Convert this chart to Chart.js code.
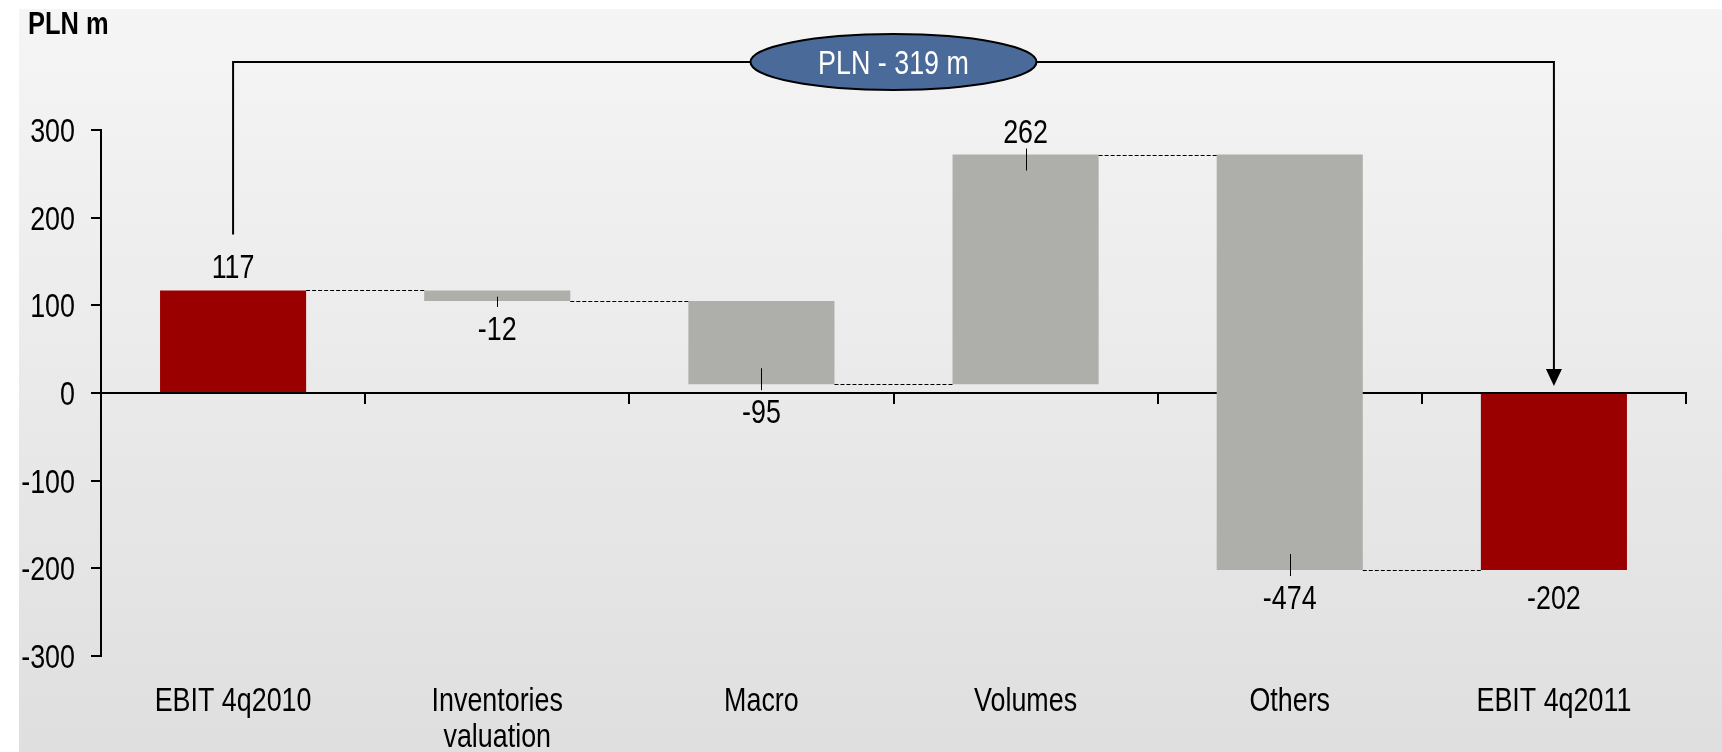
<!DOCTYPE html>
<html>
<head>
<meta charset="utf-8">
<title>EBIT bridge 4q2010 - 4q2011</title>
<script src="https://cdn.jsdelivr.net/npm/chart.js@4/dist/chart.umd.min.js"></script>
<style>
    html, body { margin: 0; padding: 0; background: #fff; overflow: hidden; }
    #bridgeChart { display: block; }
</style>
</head>
<body>
<canvas id="bridgeChart" width="1722" height="752"></canvas>
<script>
// EBIT bridge, PLN m
const categories = ['EBIT 4q2010', ['Inventories', 'valuation'], 'Macro', 'Volumes', 'Others', 'EBIT 4q2011'];
const values = [117, -12, -95, 262, -474, -202];
const isTotal = [true, false, false, false, false, true];
const yLimits = [-300, 300];
const yStep = 100;

const totalColor = '#9b0000';
const stepColor = '#aeafaa';
const fontFamily = "'Liberation Sans', Arial, sans-serif";
const textSize = 34;
const squeeze = 0.79; // narrow look for all labels

// floating ranges: totals start at zero, changes start at the running total
const ranges = [];
const levels = [];
let running = 0;
values.forEach(function (v, i) {
    if (isTotal[i]) {
        ranges.push([0, v]);
        running = v;
    } else {
        ranges.push([running, running + v]);
        running += v;
    }
    levels.push(running);
});

const totalChange = values[values.length - 1] - values[0];
const changeText = 'PLN ' + (totalChange < 0 ? '- ' : '+ ') + Math.abs(totalChange) + ' m';

function narrowText(ctx, text, x, y, align, sx) {
    ctx.save();
    ctx.translate(x, y);
    ctx.scale(sx || squeeze, 1);
    ctx.textAlign = align;
    ctx.textBaseline = 'alphabetic';
    ctx.fillText(text, 0, 0);
    ctx.restore();
}

const bridgeDecor = {
    id: 'bridgeDecor',
    beforeDraw(chart) {
        const ctx = chart.ctx;
        ctx.save();
        ctx.fillStyle = '#ffffff';
        ctx.fillRect(0, 0, chart.width, chart.height);
        const grad = ctx.createLinearGradient(0, 9, 0, chart.height);
        grad.addColorStop(0, '#f5f5f5');
        grad.addColorStop(1, '#dfdfdf');
        ctx.fillStyle = grad;
        ctx.fillRect(19, 9, chart.width - 19, chart.height - 9);

        ctx.fillStyle = '#000';
        ctx.font = 'bold 31px ' + fontFamily;
        narrowText(ctx, 'PLN m', 28, 34, 'left', 0.82);
        ctx.restore();
    },
    afterDatasetsDraw(chart) {
        const ctx = chart.ctx;
        const x = chart.scales.x;
        const y = chart.scales.y;
        const area = chart.chartArea;
        const bars = chart.getDatasetMeta(0).data;

        ctx.save();
        ctx.fillStyle = '#000';
        ctx.font = textSize + 'px ' + fontFamily;

        // y tick labels
        y.ticks.forEach(function (t) {
            const py = y.getPixelForValue(t.value);
            narrowText(ctx, String(t.label), area.left - 26, py + 12, 'right');
        });

        // category labels under the plot
        categories.forEach(function (c, i) {
            const px = x.getPixelForValue(i);
            const lines = Array.isArray(c) ? c : [c];
            lines.forEach(function (line, k) {
                narrowText(ctx, line, px, area.bottom + 55 + k * 36, 'center');
            });
        });

        // dashed links between neighbouring bars
        ctx.strokeStyle = '#000';
        ctx.lineWidth = 1;
        ctx.setLineDash([4, 2]);
        for (let i = 0; i < bars.length - 1; i++) {
            const py = Math.round(y.getPixelForValue(levels[i])) + 0.5;
            ctx.beginPath();
            ctx.moveTo(bars[i].x + bars[i].width / 2, py);
            ctx.lineTo(bars[i + 1].x - bars[i + 1].width / 2, py);
            ctx.stroke();
        }
        ctx.setLineDash([]);

        // value labels with small leader ticks on the change bars
        bars.forEach(function (bar, i) {
            const top = y.getPixelForValue(Math.max(ranges[i][0], ranges[i][1]));
            const bottom = y.getPixelForValue(Math.min(ranges[i][0], ranges[i][1]));
            const up = values[i] > 0;
            const label = String(values[i]);
            if (up) {
                narrowText(ctx, label, bar.x, top - 12, 'center');
            } else {
                narrowText(ctx, label, bar.x, bottom + 39, 'center');
            }
            if (!isTotal[i]) {
                const inside = Math.min(16, (bottom - top) / 2 - 1);
                const lx = Math.round(bar.x) + 0.5;
                ctx.beginPath();
                if (up) {
                    ctx.moveTo(lx, top - 6);
                    ctx.lineTo(lx, top + inside);
                } else {
                    ctx.moveTo(lx, bottom - inside);
                    ctx.lineTo(lx, bottom + 6);
                }
                ctx.stroke();
            }
        });
        ctx.restore();
    },
    afterDraw(chart) {
        const ctx = chart.ctx;
        const y = chart.scales.y;
        const bars = chart.getDatasetMeta(0).data;
        const first = bars[0];
        const last = bars[bars.length - 1];

        const lineY = chart.chartArea.top - 68;
        const firstTop = y.getPixelForValue(Math.max(ranges[0][0], ranges[0][1]));
        const legBottom = firstTop - 12 - 24 - 20;
        const lastTop = y.getPixelForValue(Math.max(ranges[bars.length - 1][0], ranges[bars.length - 1][1]));
        const tipY = lastTop - 7;

        ctx.save();
        ctx.strokeStyle = '#000';
        ctx.fillStyle = '#000';
        ctx.lineWidth = 2;
        ctx.beginPath();
        ctx.moveTo(first.x, legBottom);
        ctx.lineTo(first.x, lineY);
        ctx.lineTo(last.x, lineY);
        ctx.lineTo(last.x, tipY - 16);
        ctx.stroke();

        // arrow head
        ctx.beginPath();
        ctx.moveTo(last.x - 8, tipY - 17);
        ctx.lineTo(last.x + 8, tipY - 17);
        ctx.lineTo(last.x, tipY);
        ctx.closePath();
        ctx.fill();

        // oval badge with the overall change
        const cx = (first.x + last.x) / 2;
        ctx.beginPath();
        ctx.ellipse(cx, lineY, 143, 28, 0, 0, Math.PI * 2);
        ctx.fillStyle = '#4a6a9a';
        ctx.fill();
        ctx.stroke();

        ctx.fillStyle = '#ffffff';
        ctx.font = textSize + 'px ' + fontFamily;
        narrowText(ctx, changeText, cx, lineY + 12, 'center');
        ctx.restore();
    }
};

const ctx = document.getElementById('bridgeChart');

new Chart(ctx, {
    type: 'bar',
    data: {
        labels: categories,
        datasets: [{
            label: 'EBIT bridge',
            data: ranges,
            backgroundColor: isTotal.map(function (t) { return t ? totalColor : stepColor; }),
            borderWidth: 0,
            borderSkipped: false,
            barPercentage: 0.553,
            categoryPercentage: 1
        }]
    },
    options: {
        responsive: false,
        devicePixelRatio: 1,
        animation: false,
        layout: {
            padding: { top: 130, right: 36, bottom: 96, left: 0 }
        },
        plugins: {
            legend: { display: false },
            tooltip: { enabled: false }
        },
        scales: {
            x: {
                position: { y: 0 },
                offset: true,
                ticks: { display: false },
                grid: {
                    offset: true,
                    drawOnChartArea: false,
                    drawTicks: true,
                    tickLength: 10,
                    color: '#000',
                    lineWidth: 2
                },
                border: { color: '#000', width: 2 }
            },
            y: {
                min: yLimits[0],
                max: yLimits[1],
                ticks: {
                    stepSize: yStep,
                    display: false
                },
                grid: {
                    drawOnChartArea: false,
                    drawTicks: true,
                    tickLength: 10,
                    color: '#000',
                    lineWidth: 2
                },
                border: { color: '#000', width: 2 },
                afterFit(scale) { scale.width = 101; }
            }
        }
    },
    plugins: [bridgeDecor]
});
</script>
</body>
</html>
